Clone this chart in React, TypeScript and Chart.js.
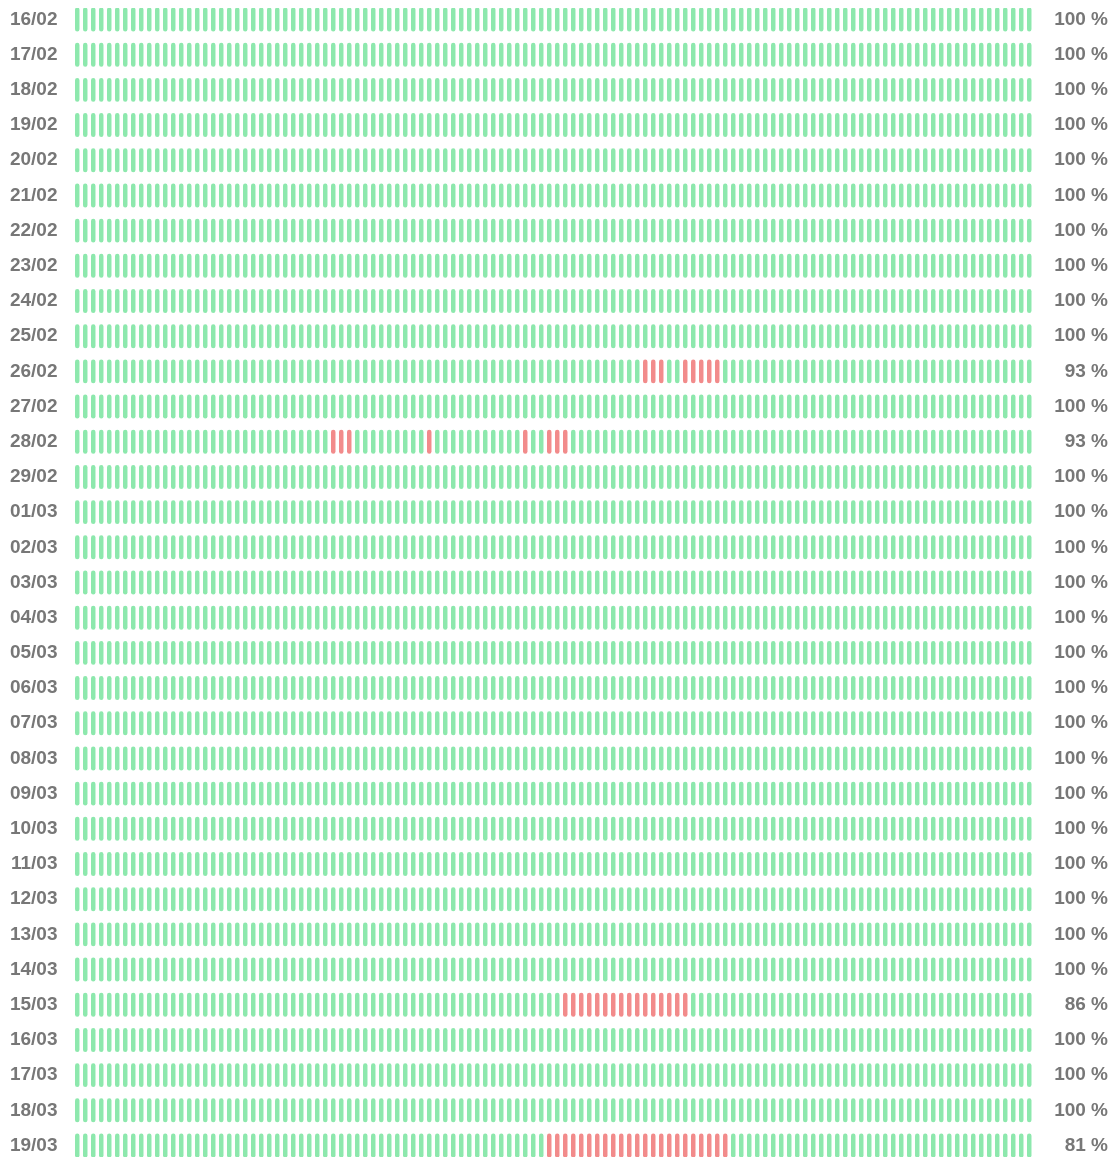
import React, { useEffect, useRef } from "react";
import { Chart, registerables } from "chart.js";

Chart.register(...registerables);

// Days shown (one row each)
const days: string[] = [
  "16/02", "17/02", "18/02", "19/02", "20/02", "21/02", "22/02", "23/02", "24/02", "25/02",
  "26/02", "27/02", "28/02", "29/02", "01/03", "02/03", "03/03", "04/03", "05/03", "06/03",
  "07/03", "08/03", "09/03", "10/03", "11/03", "12/03", "13/03", "14/03", "15/03", "16/03",
  "17/03", "18/03", "19/03",
];

// Uptime labels shown at the right of each row
const uptimeLabels: string[] = [
  "100 %", "100 %", "100 %", "100 %", "100 %", "100 %", "100 %", "100 %", "100 %", "100 %",
  "93 %", "100 %", "93 %", "100 %", "100 %", "100 %", "100 %", "100 %", "100 %", "100 %",
  "100 %", "100 %", "100 %", "100 %", "100 %", "100 %", "100 %", "100 %", "86 %", "100 %",
  "100 %", "100 %", "81 %",
];

// Number of check slots per day
const SLOTS = 120;

// Slots that were down, per day (same order as days)
const downSlots: number[][] = [
  [], [], [], [], [], [], [], [], [], [],
  [71, 72, 73, 76, 77, 78, 79, 80],
  [],
  [32, 33, 34, 44, 56, 59, 60, 61],
  [], [], [], [], [], [], [],
  [], [], [], [], [], [], [], [],
  [61, 62, 63, 64, 65, 66, 67, 68, 69, 70, 71, 72, 73, 74, 75, 76],
  [], [], [],
  [59, 60, 61, 62, 63, 64, 65, 66, 67, 68, 69, 70, 71, 72, 73, 74, 75, 76, 77, 78, 79, 80, 81],
];

const upColor = "#8de8ad";
const downColor = "#f28b8b";
const labelColor = "#777777";
const labelFont = { family: "'Liberation Sans', Arial, sans-serif", size: 19, weight: "bold" as const };

export default function App() {
  const ref = useRef<HTMLCanvasElement>(null);

  useEffect(() => {
    if (!ref.current) return;
    const datasets = Array.from({ length: SLOTS }, (_, s) => ({
      label: `slot ${s}`,
      data: days.map(() => [s + 0.22, s + 0.78] as [number, number]),
      backgroundColor: days.map((_, r) => (downSlots[r].includes(s) ? downColor : upColor)),
      borderRadius: 2.5,
      borderSkipped: false as const,
      borderWidth: 0,
      grouped: false,
      barPercentage: 0.68,
      categoryPercentage: 1,
      clip: false,
      yAxisID: "y",
      xAxisID: "x",
    }));

    const fitY = (w: number) => (s: any) => {
      s.width = w;
      s.paddingTop = 0;
      s.paddingBottom = 0;
    };

    const chart = new Chart(ref.current, {
      type: "bar",
      data: { labels: days, datasets: datasets as any },
      options: {
        indexAxis: "y",
        animation: false,
        responsive: false,
        layout: { padding: { top: 11.5, bottom: 11.5, left: 0, right: 1 } },
        plugins: { legend: { display: false }, tooltip: { enabled: false } },
        scales: {
          x: { type: "linear", min: 0, max: SLOTS, display: false },
          y: {
            type: "category",
            position: "left",
            offset: false,
            grid: { display: false, drawTicks: false },
            border: { display: false },
            ticks: { padding: 15.75, color: labelColor, font: labelFont, autoSkip: false },
            afterFit: fitY(65.25),
          },
          y2: {
            type: "category",
            position: "right",
            labels: uptimeLabels,
            offset: false,
            grid: { display: false, drawTicks: false },
            border: { display: false },
            ticks: { crossAlign: "far", color: labelColor, font: labelFont, autoSkip: false },
            afterFit: fitY(74.75),
          },
        },
      } as any,
    });
    return () => chart.destroy();
  }, []);

  return (
    <canvas
      ref={ref}
      width={1101}
      height={1149}
      style={{ display: "block", width: 1101, height: 1149 }}
    />
  );
}
